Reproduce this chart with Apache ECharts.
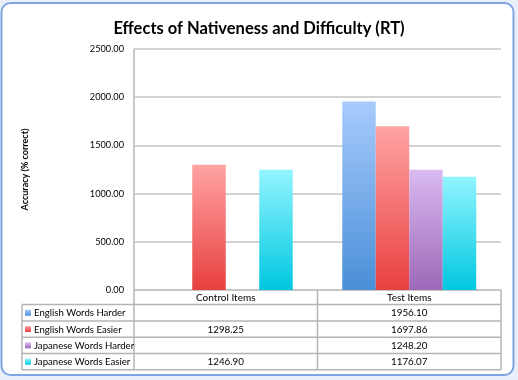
<!DOCTYPE html>
<html><head><meta charset="utf-8">
<script src="https://cdn.jsdelivr.net/npm/echarts@6/dist/echarts.min.js"></script>
<style>html,body{margin:0;padding:0;background:#e9f0fa;}#c{width:518px;height:380px;}</style>
</head><body><div id="c"></div>
<script>
var categories = ['Control Items', 'Test Items'];
var seriesNames = ['English Words Harder', 'English Words Easier', 'Japanese Words Harder', 'Japanese Words Easier'];
var englishHarder = [null, 1956.10];
var englishEasier = [1298.25, 1697.86];
var japaneseHarder = [null, 1248.20];
var japaneseEasier = [1246.90, 1176.07];
var yTicks = [0, 500, 1000, 1500, 2000, 2500];

var values = [englishHarder, englishEasier, japaneseHarder, japaneseEasier];
var colors = [
  ['#a8cbfc', '#4a8fd8'],
  ['#ffa3a3', '#e8403f'],
  ['#dabaf0', '#9d68b8'],
  ['#92f5ff', '#00c7e0']
];
var F = 'Lato, "Open Sans", sans-serif';
var G = {left: 134, right: 501, top: 49, bottom: 290};
var tableLeft = 22, rowH = 16.3, headerBottom = 304.6;

var chart = echarts.init(document.getElementById('c'));
var series = values.map(function (d, i) {
  return {
    name: seriesNames[i], type: 'bar', data: d,
    barGap: '0%', barCategoryGap: '27%',
    itemStyle: {color: new echarts.graphic.LinearGradient(0, 0, 0, 1, [
      {offset: 0, color: colors[i][0]}, {offset: 1, color: colors[i][1]}])},
    emphasis: {disabled: true}
  };
});

var graphics = [];
graphics.push({type: 'rect', shape: {x: 1.5, y: 3, width: 512, height: 372, r: 9}, style: {fill: '#fff', stroke: '#7ea5e2', lineWidth: 2}, z: -10});
var lineStyle = {stroke: '#b4b4b4', lineWidth: 1.5};
var colW = (G.right - G.left) / categories.length;
var tableBottom = headerBottom + rowH * seriesNames.length;
graphics.push({type: 'line', shape: {x1: tableLeft, y1: headerBottom, x2: tableLeft, y2: tableBottom}, style: lineStyle});
for (var c = 0; c <= categories.length; c++) {
  var x = G.left + c * colW;
  graphics.push({type: 'line', shape: {x1: x, y1: c === 0 ? G.top : G.bottom, x2: x, y2: tableBottom}, style: lineStyle});
}
graphics.push({type: 'line', shape: {x1: G.left, y1: G.bottom, x2: G.right, y2: G.bottom}, style: lineStyle});
for (var r = 0; r <= seriesNames.length; r++) {
  var y = headerBottom + r * rowH;
  graphics.push({type: 'line', shape: {x1: tableLeft, y1: y, x2: G.right, y2: y}, style: lineStyle});
}
categories.forEach(function (cat, c) {
  graphics.push({type: 'text', style: {text: cat, x: G.left + (c + 0.5) * colW, y: (G.bottom + headerBottom) / 2 + 0.5, align: 'center', verticalAlign: 'middle', font: '10px ' + F, fill: '#000'}});
});
seriesNames.forEach(function (name, i) {
  var cy = headerBottom + (i + 0.5) * rowH + 0.5;
  graphics.push({type: 'rect', shape: {x: tableLeft + 3, y: cy - 3.5, width: 6, height: 6}, style: {fill: new echarts.graphic.LinearGradient(0, 0, 0, 1, [{offset: 0, color: colors[i][0]}, {offset: 1, color: colors[i][1]}])}});
  graphics.push({type: 'text', style: {text: name, x: tableLeft + 12, y: cy, verticalAlign: 'middle', font: '9.6px ' + F, fill: '#000'}});
  values[i].forEach(function (v, c) {
    if (v == null) return;
    graphics.push({type: 'text', style: {text: v.toFixed(2), x: G.left + (c + 0.5) * colW, y: cy, align: 'center', verticalAlign: 'middle', font: '9.8px ' + F, fill: '#000'}});
  });
});

chart.setOption({
  animation: false,
  backgroundColor: 'transparent',
  title: {text: 'Effects of Nativeness and Difficulty (RT)', left: 'center', top: 15, textStyle: {fontFamily: F, fontWeight: 'bold', fontSize: 16.5, color: '#000'}},
  grid: {left: G.left, right: 518 - G.right, top: G.top, bottom: 380 - G.bottom, containLabel: false},
  xAxis: {type: 'category', data: categories, axisLine: {show: false}, axisTick: {show: false}, axisLabel: {show: false}},
  yAxis: {type: 'value', min: yTicks[0], max: yTicks[yTicks.length - 1], interval: yTicks[1] - yTicks[0],
    name: 'Accuracy (% correct)', nameLocation: 'middle', nameGap: 104, nameRotate: 90,
    nameTextStyle: {fontFamily: F, fontWeight: 'bold', fontSize: 9, color: '#000'},
    axisLine: {show: false}, axisTick: {show: false},
    axisLabel: {formatter: function (v) { return v.toFixed(2); }, fontFamily: F, fontSize: 9.2, color: '#000', margin: 10},
    splitLine: {lineStyle: {color: '#c4c4c4', width: 1.5}}},
  series: series,
  graphic: graphics
});
</script></body></html>
